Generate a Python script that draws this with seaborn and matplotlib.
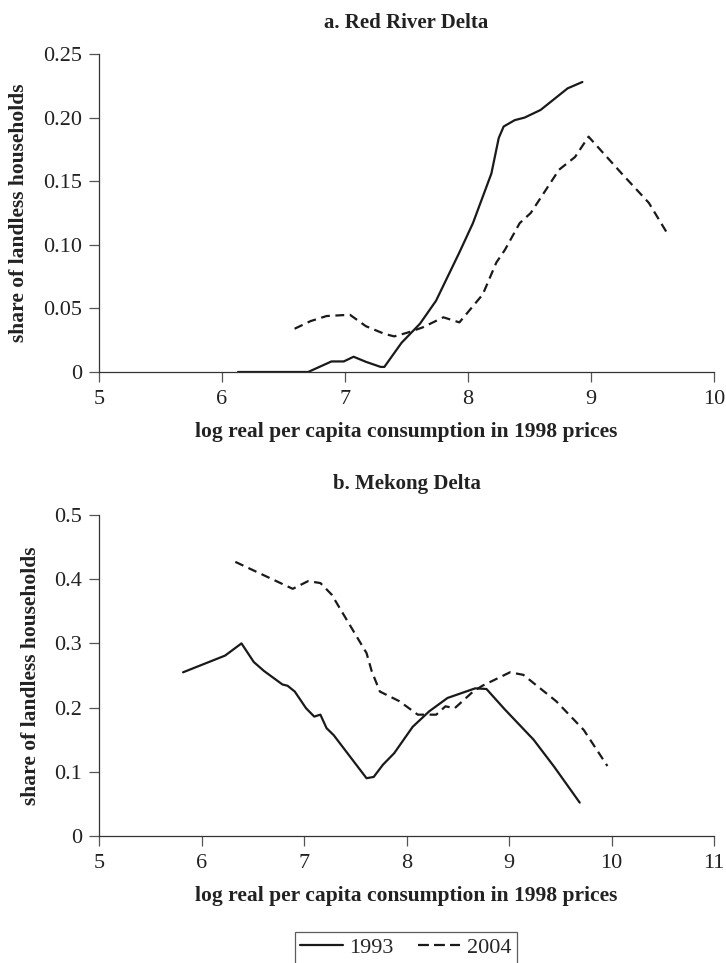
import pandas as pd
import seaborn as sns
import matplotlib.pyplot as plt

sns.set_style('ticks')
plt.rcParams['font.family'] = ['Liberation Serif', 'DejaVu Serif']

# a. Red River Delta
rrd_x_1993 = [6.13, 6.70, 6.89, 6.99, 7.07, 7.17, 7.29, 7.32, 7.46, 7.61, 7.74, 7.93,
              8.04, 8.19, 8.25, 8.29, 8.38, 8.46, 8.59, 8.81, 8.93]
rrd_y_1993 = [0.0, 0.0, 0.0083, 0.0083, 0.012, 0.008, 0.004, 0.004, 0.023, 0.038, 0.056, 0.094,
              0.117, 0.156, 0.184, 0.193, 0.198, 0.200, 0.206, 0.223, 0.228]
rrd_x_2004 = [6.59, 6.72, 6.85, 7.04, 7.17, 7.32, 7.40, 7.51, 7.63, 7.80, 7.93, 8.12,
              8.23, 8.30, 8.42, 8.51, 8.74, 8.87, 8.98, 9.25, 9.47, 9.62]
rrd_y_2004 = [0.034, 0.040, 0.044, 0.045, 0.036, 0.030, 0.028, 0.031, 0.035, 0.043, 0.039, 0.061,
              0.086, 0.096, 0.117, 0.125, 0.159, 0.169, 0.185, 0.156, 0.133, 0.109]

# b. Mekong Delta
mkd_x_1993 = [5.82, 6.23, 6.39, 6.51, 6.61, 6.79, 6.84, 6.91, 7.02, 7.10, 7.16, 7.22, 7.29,
              7.61, 7.68, 7.77, 7.88, 8.06, 8.22, 8.40, 8.67, 8.78, 8.96, 9.24, 9.44, 9.69]
mkd_y_1993 = [0.255, 0.281, 0.300, 0.271, 0.257, 0.236, 0.234, 0.225, 0.199, 0.186, 0.189, 0.168, 0.157,
              0.090, 0.092, 0.111, 0.129, 0.170, 0.194, 0.215, 0.230, 0.229, 0.197, 0.150, 0.108, 0.052]
mkd_x_2004 = [6.33, 6.89, 7.04, 7.16, 7.27, 7.61, 7.66, 7.74, 7.93, 8.11, 8.29, 8.38, 8.47,
              8.65, 8.74, 9.01, 9.14, 9.46, 9.73, 9.96]
mkd_y_2004 = [0.427, 0.385, 0.397, 0.394, 0.376, 0.285, 0.257, 0.225, 0.210, 0.189, 0.189, 0.202, 0.199,
              0.225, 0.234, 0.255, 0.251, 0.210, 0.165, 0.109]


def make_df(x93, y93, x04, y04):
    return pd.concat([
        pd.DataFrame({'x': x93, 'y': y93, 'year': '1993'}),
        pd.DataFrame({'x': x04, 'y': y04, 'year': '2004'}),
    ], ignore_index=True)


W, H = 726, 963
panels = [
    ('a. Red River Delta', make_df(rrd_x_1993, rrd_y_1993, rrd_x_2004, rrd_y_2004),
     (54, 372), 19, (5, 10), [5, 6, 7, 8, 9, 10], (0, 0.25),
     [0, 0.05, 0.10, 0.15, 0.20, 0.25], ['0', '0.05', '0.10', '0.15', '0.20', '0.25']),
    ('b. Mekong Delta', make_df(mkd_x_1993, mkd_y_1993, mkd_x_2004, mkd_y_2004),
     (515, 836), 18.5, (5, 11), [5, 6, 7, 8, 9, 10, 11], (0, 0.5),
     [0, 0.1, 0.2, 0.3, 0.4, 0.5], ['0', '0.1', '0.2', '0.3', '0.4', '0.5']),
]

fig = plt.figure(figsize=(W / 100, H / 100), dpi=100)
for title, df, (top, bot), tpad, xlim, xticks, ylim, yticks, ylabels in panels:
    ax = fig.add_axes([99 / W, 1 - bot / H, (714 - 99) / W, (bot - top) / H])
    sns.lineplot(data=df, x='x', y='y', style='year', color='#1a1a1a', linewidth=1.6,
                 dashes={'1993': '', '2004': (4, 2.5)}, ax=ax, legend=False)
    ax.set_xlim(*xlim)
    ax.set_ylim(*ylim)
    ax.set_xticks(xticks)
    ax.set_yticks(yticks)
    ax.set_yticklabels(ylabels)
    ax.tick_params(labelsize=16, length=7, width=0.9, color='#555555', direction='out',
                   labelcolor='#222222')
    ax.tick_params(axis='y', pad=5)
    ax.tick_params(axis='x', pad=6)
    for s in ['left', 'bottom']:
        ax.spines[s].set_color('#333333')
        ax.spines[s].set_linewidth(0.9)
    sns.despine(ax=ax)
    ax.set_title(title, fontsize=15, fontweight='bold', pad=tpad, color='#222222')
    ax.set_xlabel('log real per capita consumption in 1998 prices', fontsize=15.5,
                  fontweight='bold', labelpad=9, color='#222222')
    ax.set_ylabel('share of landless households', fontsize=15.5, fontweight='bold',
                  labelpad=10, color='#222222')

h1, = plt.plot([], [], color='#1a1a1a', linewidth=1.6)
h2, = plt.plot([], [], color='#1a1a1a', linewidth=1.6, linestyle=(0, (4.9, 2.3)))
leg = fig.legend([h1, h2], ['1993', '2004'], loc='upper center',
                 bbox_to_anchor=(406 / W, 1 - 921 / H),
                 ncol=2, frameon=True, fancybox=False, edgecolor='#333333', fontsize=16,
                 handlelength=1.9, handletextpad=0.3, columnspacing=1.1, borderpad=0.25)
leg.get_frame().set_linewidth(0.9)

fig.savefig('out.png', dpi=100)
